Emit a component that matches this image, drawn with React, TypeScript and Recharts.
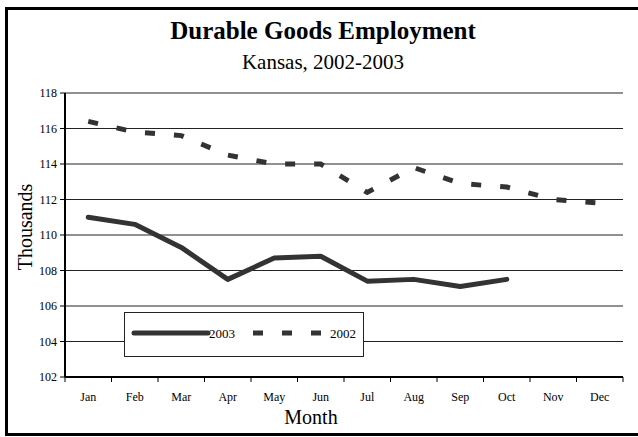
import { LineChart, Line, XAxis, YAxis, CartesianGrid, Legend } from 'recharts'

const months = ['Jan', 'Feb', 'Mar', 'Apr', 'May', 'Jun', 'Jul', 'Aug', 'Sep', 'Oct', 'Nov', 'Dec']
const employment2003 = [111.0, 110.6, 109.3, 107.5, 108.7, 108.8, 107.4, 107.5, 107.1, 107.5, null, null]
const employment2002 = [116.4, 115.8, 115.6, 114.5, 114.0, 114.0, 112.4, 113.8, 112.9, 112.7, 112.0, 111.8]
const yTicks = [102, 104, 106, 108, 110, 112, 114, 116, 118]

const data = months.map((m, i) => ({ month: m, y2003: employment2003[i], y2002: employment2002[i] }))

const serif = "'Liberation Serif', 'Times New Roman', serif"
const ink = '#333333'
const dash = '10 19'

// plot area is 558px wide, 12 categories
const band = 558 / 12

function MonthTick(props: any) {
  const { x, y, payload, index } = props
  const half = band / 2
  return (
    <g>
      <line x1={x - half} x2={x - half} y1={y} y2={y + 5} stroke="#000" />
      {index === months.length - 1 && <line x1={x + half} x2={x + half} y1={y} y2={y + 5} stroke="#000" />}
      <text x={x} y={y + 24} textAnchor="middle" fontFamily={serif} fontSize={12} fill="#000">
        {payload.value}
      </text>
    </g>
  )
}

function ValueTick(props: any) {
  const { x, y, payload } = props
  return (
    <text x={x} y={y} dy={4} textAnchor="end" fontFamily={serif} fontSize={12} fill="#000">
      {payload.value}
    </text>
  )
}

function LegendBox() {
  return (
    <div style={{ width: 240, height: 45, border: '1px solid #222', background: '#fff', boxSizing: 'border-box', position: 'relative' }}>
      <svg width={238} height={43} style={{ position: 'absolute', left: 0, top: 0 }}>
        <line x1={9} x2={83} y1={20} y2={20} stroke={ink} strokeWidth={5} strokeLinecap="round" />
        <text x={84} y={25} fontFamily={serif} fontSize={13} fill="#000">2003</text>
        <line x1={128} x2={198} y1={20} y2={20} stroke={ink} strokeWidth={5} strokeDasharray={dash} />
        <text x={205} y={25} fontFamily={serif} fontSize={13} fill="#000">2002</text>
      </svg>
    </div>
  )
}

export default function App() {
  return (
    <div style={{ position: 'fixed', left: 0, top: 0, width: 638, height: 437, overflow: 'hidden', background: '#fff', fontFamily: serif }}>
      <div style={{ position: 'absolute', left: 5, top: 7, width: 633, height: 429, border: '3px solid #000', borderRight: 'none', boxSizing: 'border-box' }} />
      <div style={{ position: 'absolute', left: 0, width: 646, top: 16, textAlign: 'center', fontFamily: serif, fontWeight: 'bold', fontSize: 25, lineHeight: '30px' }}>
        Durable Goods Employment
      </div>
      <div style={{ position: 'absolute', left: 0, width: 646, top: 50, textAlign: 'center', fontFamily: serif, fontSize: 21, lineHeight: '24px' }}>
        Kansas, 2002-2003
      </div>
      <div style={{ position: 'absolute', left: 0, top: 0 }}>
        <LineChart width={638} height={437} data={data} margin={{ top: 93, right: 15, bottom: 0, left: 0 }} style={{ fontFamily: serif }}>
          <CartesianGrid vertical={false} horizontal stroke="#222" strokeWidth={1} />
          <XAxis
            dataKey="month"
            interval={0}
            padding={{ left: band / 2, right: band / 2 }}
            height={60}
            tickSize={0}
            tickMargin={0}
            tickLine={false}
            tick={<MonthTick />}
            axisLine={{ stroke: '#000', strokeWidth: 2 }}
            label={(p: any) => (
              <text x={p.viewBox.x + p.viewBox.width / 2 - 33} y={p.viewBox.y + 47} textAnchor="middle" fontFamily={serif} fontSize={20} fill="#000">
                Month
              </text>
            )}
          />
          <XAxis xAxisId="top" dataKey="month" orientation="top" height={0} tick={false} tickLine={false} axisLine={{ stroke: '#000', strokeWidth: 2 }} />
          <YAxis
            domain={[102, 118]}
            ticks={yTicks}
            interval={0}
            width={65}
            tickSize={5}
            tickMargin={3}
            tickLine={{ stroke: '#000' }}
            axisLine={{ stroke: '#000', strokeWidth: 2 }}
            tick={<ValueTick />}
            label={(p: any) => (
              <text
                x={p.viewBox.x + 25}
                y={p.viewBox.y + p.viewBox.height / 2 - 8}
                textAnchor="middle"
                dominantBaseline="central"
                transform={`rotate(-90 ${p.viewBox.x + 25} ${p.viewBox.y + p.viewBox.height / 2 - 8})`}
                fontFamily={serif}
                fontSize={20}
                fill="#000"
              >
                Thousands
              </text>
            )}
          />
          <YAxis yAxisId="right" orientation="right" domain={[102, 118]} width={0} tick={false} tickLine={false} axisLine={{ stroke: '#000', strokeWidth: 2 }} />
          <Legend
            layout="horizontal"
            verticalAlign="middle"
            align="center"
            wrapperStyle={{ left: 124, top: 312, width: 240, height: 45 }}
            content={() => <LegendBox />}
          />
          <Line dataKey="y2002" name="2002" stroke={ink} strokeWidth={5} strokeDasharray={dash} dot={false} isAnimationActive={false} />
          <Line dataKey="y2003" name="2003" stroke={ink} strokeWidth={5} strokeLinecap="round" strokeLinejoin="round" dot={false} isAnimationActive={false} />
        </LineChart>
      </div>
    </div>
  )
}
